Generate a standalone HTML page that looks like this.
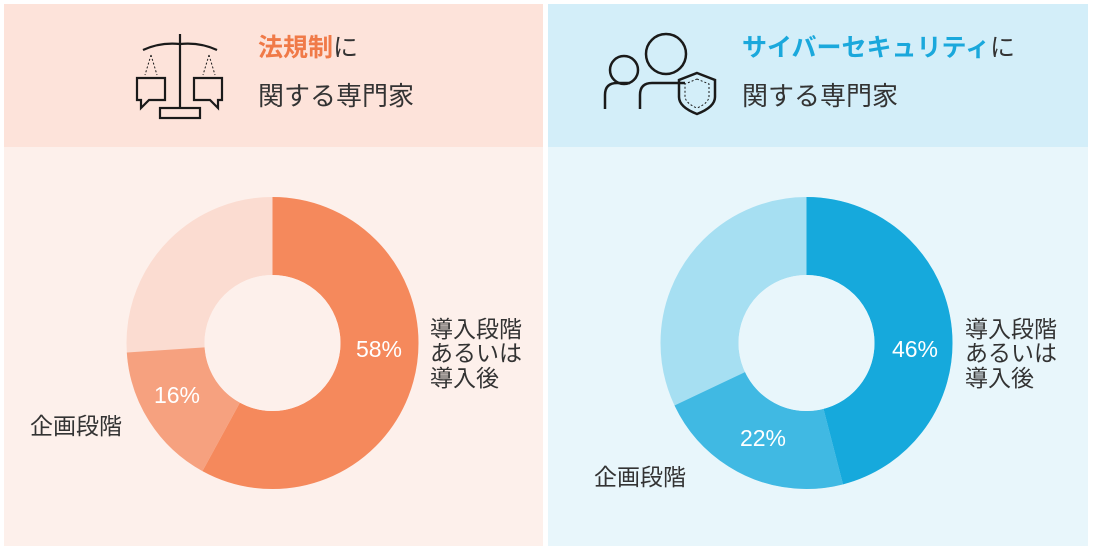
<!DOCTYPE html>
<html><head><meta charset="utf-8"><style>
body{margin:0;width:1096px;height:550px;background:#fff;font-family:"Liberation Sans","Noto Sans CJK JP",sans-serif;overflow:hidden}
</style></head><body>
<svg width="1096" height="550" viewBox="0 0 1096 550" xmlns="http://www.w3.org/2000/svg" style="font-family:'Liberation Sans','Noto Sans CJK JP',sans-serif">
<rect x="4" y="4" width="539" height="143" fill="#fde3da"/>
<rect x="4" y="147" width="539" height="399" fill="#fdf0eb"/>
<rect x="548" y="4" width="540" height="143" fill="#d3eef9"/>
<rect x="548" y="147" width="540" height="399" fill="#e8f6fb"/>
<g fill="none" stroke="#1a1a1a" stroke-width="2.2">
<line x1="180" y1="34" x2="180" y2="108"/>
<path d="M143 50 Q160 42 180 44 Q200 42 217 50"/>
<rect x="160" y="108" width="40" height="10"/>
<path d="M137 78 h28 v22 h-16 l-8 8 v-8 h-4 z"/>
<path d="M194 78 h28 v22 h-4 v8 l-8 -8 h-16 z"/>
<path d="M151 55 l-6 20 M151 55 l6 20 M209 55 l-6 20 M209 55 l6 20" stroke-width="1" stroke-dasharray="2 2"/>
</g>
<text x="258" y="56" font-size="25" font-weight="bold" fill="#f07a48">法規制<tspan fill="#333" font-weight="normal">に</tspan></text>
<text x="258" y="105" font-size="26" fill="#333">関する専門家</text>
<g fill="none" stroke="#1a1a1a" stroke-width="2.5">
<circle cx="624" cy="70" r="14"/>
<path d="M605 109 v-14 q0-12 12-12 h13"/>
<circle cx="666" cy="54" r="20"/>
<path d="M640 109 v-14 q0-12 12-12 h33"/>
<path d="M697 73 l18 7 v17 q0 10-18 17 q-18-7-18-17 v-17 z"/>
<path d="M697 79 l12 5 v12 q0 7-12 12 q-12-5-12-12 v-12 z" stroke-width="1" stroke-dasharray="2 2"/>
</g>
<text x="742" y="56" font-size="25" font-weight="bold" fill="#1aa8dc">サイバーセキュリティ<tspan fill="#333" font-weight="normal">に</tspan></text>
<text x="742" y="105" font-size="26" fill="#333">関する専門家</text>
<g transform="translate(272.5,343)">
<circle r="107" fill="none" stroke="#fbdcd1" stroke-width="78"/>
<circle r="107" fill="none" stroke="#f5895c" stroke-width="78" pathLength="100" stroke-dasharray="58 100" transform="rotate(-90)"/>
<circle r="107" fill="none" stroke="#f6a17f" stroke-width="78" pathLength="100" stroke-dasharray="16 100" stroke-dashoffset="-58" transform="rotate(-90)"/>
<circle r="68" fill="#fdf0eb"/>
</g>
<text x="379" y="357" font-size="23" fill="#fff" text-anchor="middle">58%</text>
<text x="177" y="403" font-size="23" fill="#fff" text-anchor="middle">16%</text>
<text x="30" y="434" font-size="23" fill="#333">企画段階</text>
<text font-size="23" fill="#333"><tspan x="430" y="337">導入段階</tspan><tspan x="430" y="361">あるいは</tspan><tspan x="430" y="386">導入後</tspan></text>
<g transform="translate(806.5,343)">
<circle r="107" fill="none" stroke="#a6dff2" stroke-width="78"/>
<circle r="107" fill="none" stroke="#16a9dc" stroke-width="78" pathLength="100" stroke-dasharray="46 100" transform="rotate(-90)"/>
<circle r="107" fill="none" stroke="#40b9e3" stroke-width="78" pathLength="100" stroke-dasharray="22 100" stroke-dashoffset="-46" transform="rotate(-90)"/>
<circle r="68" fill="#e8f6fb"/>
</g>
<text x="915" y="357" font-size="23" fill="#fff" text-anchor="middle">46%</text>
<text x="763" y="446" font-size="23" fill="#fff" text-anchor="middle">22%</text>
<text x="594" y="485" font-size="23" fill="#333">企画段階</text>
<text font-size="23" fill="#333"><tspan x="965" y="337">導入段階</tspan><tspan x="965" y="361">あるいは</tspan><tspan x="965" y="386">導入後</tspan></text>
</svg>
</body></html>
